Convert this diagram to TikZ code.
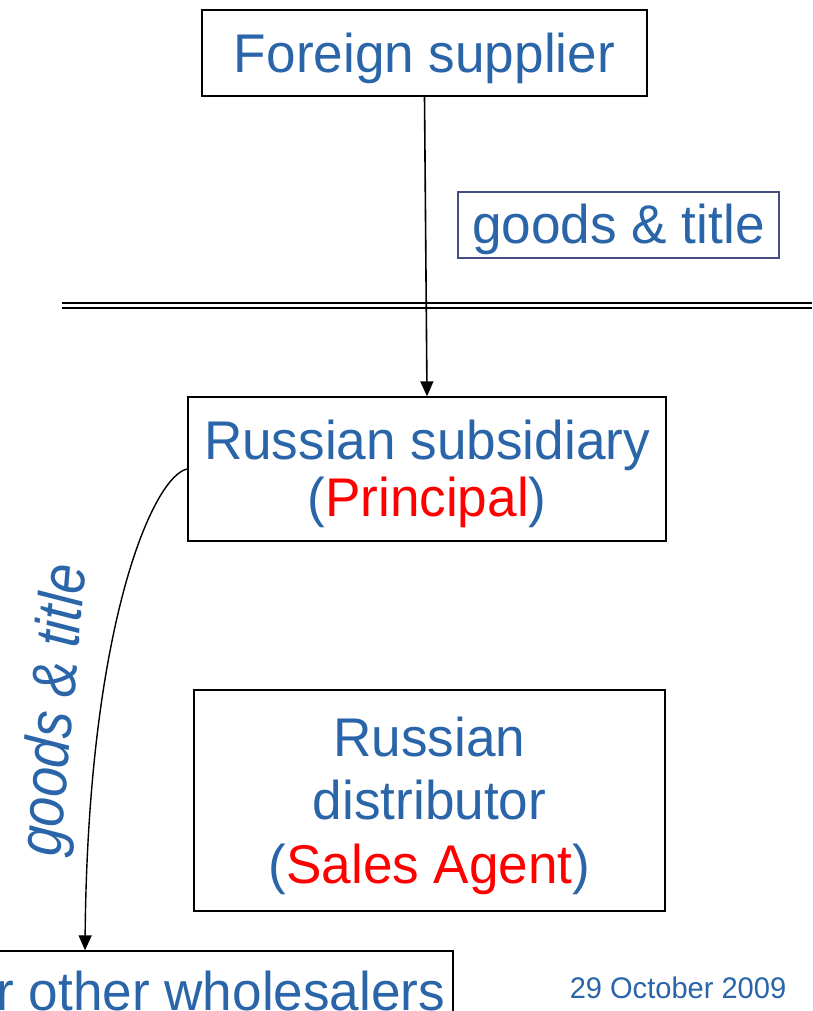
\documentclass[tikz,border=0pt]{standalone}
\usepackage{fontspec}
\setmainfont{Liberation Sans}[FakeStretch=0.975]
\usetikzlibrary{arrows.meta, positioning}
\definecolor{slideblue}{RGB}{41,101,168}
\definecolor{slidered}{RGB}{255,0,0}
\definecolor{boxslate}{RGB}{68,78,128}
\newcommand{\topstrut}{\rule{0pt}{49.4pt}} % the slide leaves more room above the text
\tikzset{
    >={Triangle[length=15pt,width=13pt]}, % solid arrow heads
    box/.style={draw, line width=1.4pt, text=slideblue, align=center, inner sep=0pt}, % the boxes of the slide
    flow/.style={->, line width=1.6pt}, % goods going down
    big/.style={font=\fontsize{54.5}{63.5}\selectfont}
}

\begin{document}
\begin{tikzpicture}[x=1pt, y=-1pt, every node/.style={big}]
        \useasboundingbox (0,0) rectangle (812,1011);
        \clip (0,0) rectangle (812,1011);
        \fill[white] (0,0) rectangle (812,1011);

        \node[box, minimum width=445pt, minimum height=86pt] (supplier) at (424.5,53) {\topstrut Foreign supplier};
        \node[box, draw=boxslate, line width=1.2pt, minimum width=321pt, minimum height=66pt] (gt) at (618.5,225) {\rule{0pt}{47.5pt}goods \& title};
        \node[box, minimum width=478pt, minimum height=144pt, font=\fontsize{54.5}{57}\selectfont] (sub) at (427,469) {\topstrut Russian subsidiary\\(\textcolor{slidered}{Principal})};
        \node[box, minimum width=471pt, minimum height=221pt] (dist) at (429.5,800.5) {\topstrut Russian\\distributor\\(\textcolor{slidered}{Sales Agent})};
        \node[box, minimum width=494pt, minimum height=70pt] (whole) at (206,986) {\topstrut or other wholesalers};
        \node[text=slideblue, font=\fontsize{29.8}{35}\selectfont] (date) at (678,988) {29 October 2009};
        \node[text=slideblue, font=\fontsize{54.5}{63.5}\selectfont\itshape, rotate=85, yscale=1.15, anchor=base] (gtlabel) at (73,712) {goods \& title};

        % the border
        \draw[line width=1.9pt, double, double distance=3.6pt] (62,305.3) -- (812,305.3);

        \draw[flow] (supplier.south) -- (sub.north);
        \draw[flow, line width=1.4pt] (sub.west) .. controls +(-33,6) and +(3,-330) .. ([xshift=-121pt]whole.north);
    \end{tikzpicture}
\end{document}
